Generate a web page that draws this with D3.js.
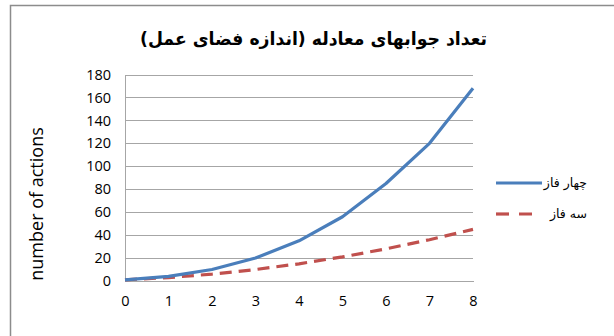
<!DOCTYPE html>
<html>
<head>
<meta charset="utf-8">
<script src="https://cdn.jsdelivr.net/npm/d3@7"></script>
<style>
  html, body { margin: 0; padding: 0; background: #fff; }
  svg { display: block; }
</style>
</head>
<body>
<svg id="chart" width="614" height="336"></svg>
<script>
// Number of solutions per step (size of the action space)
const steps = [0, 1, 2, 3, 4, 5, 6, 7, 8];
const fourPhase = [1, 4, 10, 20, 35, 56, 85, 120, 168];
const threePhase = [1, 3, 6, 10, 15, 21, 28, 36, 45];
const yTicks = [0, 20, 40, 60, 80, 100, 120, 140, 160, 180];
const seriesNames = ["چهار فاز", "سه فاز"];
const titleText = "تعداد جوابهای معادله (اندازه فضای عمل)";
const yAxisTitle = "number of actions";

const svg = d3.select("#chart");
const blue = "#4a7ebb", red = "#c0504d";
const arabicFont = "'DejaVu Sans', sans-serif";
const latinFont = "'Open Sans', 'Liberation Sans', sans-serif";

// chart frame
svg.append("path")
  .attr("d", "M10.5,336 V5.5 H614")
  .attr("fill", "none").attr("stroke", "#8c8c8c").attr("stroke-width", 1.5);

const plot = { left: 125, right: 473, top: 74.5, bottom: 281 };
const x = d3.scaleLinear().domain([0, 8]).range([plot.left, plot.right]);
const y = d3.scaleLinear().domain([0, 180]).range([plot.bottom, plot.top]);

// horizontal gridlines
const yAxis = d3.axisLeft(y).tickValues(yTicks).tickSize(-(plot.right - plot.left)).tickPadding(14);
const gy = svg.append("g").attr("transform", `translate(${plot.left},0)`).call(yAxis);
gy.select(".domain").remove();
gy.selectAll(".tick line").attr("stroke", "#a6a6a6").attr("stroke-width", 1)
  .attr("shape-rendering", "crispEdges");
gy.selectAll(".tick text").attr("font-family", latinFont).attr("font-size", 14.5)
  .attr("fill", "#000");

// axis lines
svg.append("line").attr("x1", plot.left).attr("x2", plot.left)
  .attr("y1", plot.top).attr("y2", plot.bottom)
  .attr("stroke", "#a6a6a6").attr("shape-rendering", "crispEdges");
const xAxis = d3.axisBottom(x).tickValues(steps).tickSize(0).tickPadding(15);
const gx = svg.append("g").attr("transform", `translate(0,${plot.bottom})`).call(xAxis);
gx.select(".domain").attr("stroke", "#a6a6a6").attr("shape-rendering", "crispEdges");
gx.selectAll(".tick text").attr("font-family", latinFont).attr("font-size", 14.5)
  .attr("fill", "#000");

// series lines
const line = (vals) => d3.line().x((d, i) => x(steps[i])).y(d => y(d))(vals);
svg.append("path").attr("d", line(threePhase))
  .attr("fill", "none").attr("stroke", red).attr("stroke-width", 3.2)
  .attr("stroke-dasharray", "12,7");
svg.append("path").attr("d", line(fourPhase))
  .attr("fill", "none").attr("stroke", blue).attr("stroke-width", 3.2)
  .attr("stroke-linejoin", "round");

// title
svg.append("text").attr("x", 313.5).attr("y", 45)
  .attr("text-anchor", "middle").attr("direction", "rtl")
  .attr("font-family", arabicFont).attr("font-weight", "bold").attr("font-size", 18)
  .attr("textLength", 347).attr("lengthAdjust", "spacingAndGlyphs")
  .attr("fill", "#000").text(titleText);

// y axis title
svg.append("text").attr("transform", "translate(43,204) rotate(-90)")
  .attr("text-anchor", "middle").attr("font-family", latinFont).attr("font-size", 18)
  .attr("fill", "#000").text(yAxisTitle);

// legend
const legend = [
  { name: seriesNames[0], color: blue, dash: null, y: 183 },
  { name: seriesNames[1], color: red, dash: "13,10", y: 214 }
];
legend.forEach(l => {
  svg.append("line").attr("x1", 496).attr("x2", 542).attr("y1", l.y).attr("y2", l.y)
    .attr("stroke", l.color).attr("stroke-width", 3.2)
    .attr("stroke-dasharray", l.dash);
  svg.append("text").attr("x", 587).attr("y", l.y).attr("dy", "0.32em")
    .attr("text-anchor", "start").attr("direction", "rtl")
    .attr("font-family", arabicFont).attr("font-size", 12.5).attr("fill", "#000")
    .text(l.name);
});
</script>
</body>
</html>
